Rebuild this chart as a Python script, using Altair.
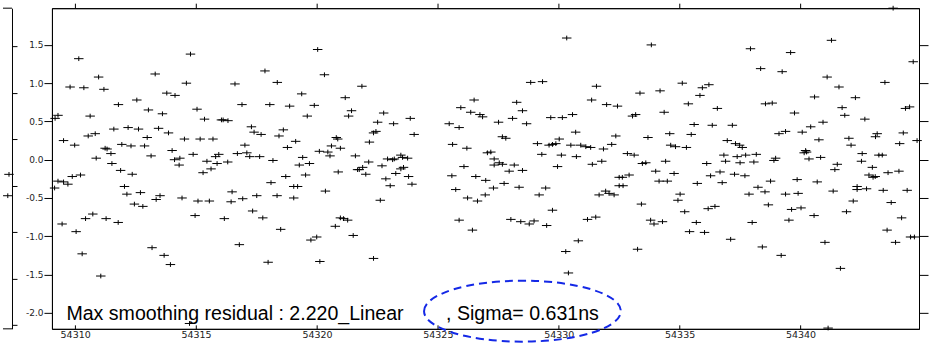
import altair as alt
import pandas as pd

# ---------------- data ----------------
mjd = [
    54309.17, 54309.29, 54309.15, 54309.29, 54309.52, 54309.70, 54309.46, 54309.52, 54309.79, 54309.98,
    54310.04, 54309.88, 54310.22, 54310.15, 54310.29, 54310.36, 54310.43, 54310.54, 54310.62, 54310.73,
    54310.83, 54310.87, 54310.97, 54311.06, 54311.19,
    54311.24, 54311.32, 54311.28, 54311.48, 54311.52, 54311.60, 54311.79, 54311.78, 54311.88, 54311.93,
    54312.04, 54312.14, 54312.19, 54312.31, 54312.36, 54312.45, 54312.55, 54312.62, 54312.70, 54312.80,
    54312.87, 54312.98, 54313.03, 54313.14, 54313.18, 54313.31, 54313.35, 54313.45, 54313.51, 54313.61,
    54313.68, 54313.79, 54313.86, 54313.94, 54314.01, 54314.11, 54314.13, 54314.30, 54314.33, 54314.42,
    54314.52, 54314.60, 54314.73, 54314.77, 54314.88, 54314.96, 54315.04, 54315.08, 54315.17,
    54315.29, 54315.35, 54315.45, 54315.55, 54315.62, 54315.70, 54315.81, 54315.87, 54315.94, 54316.05,
    54316.12, 54316.17, 54316.31, 54316.32, 54316.45, 54316.49, 54316.61, 54316.71, 54316.79, 54316.90,
    54316.93, 54317.02, 54317.10, 54317.22, 54317.29, 54317.34, 54317.40, 54317.51, 54317.63, 54317.69,
    54317.76, 54317.85, 54317.98, 54318.05, 54318.10, 54318.18, 54318.35, 54318.36, 54318.43, 54318.50,
    54318.61, 54318.71, 54318.78, 54318.87, 54319.04, 54319.04, 54319.20, 54319.12, 54319.27, 54319.37,
    54319.41, 54319.53, 54319.60, 54319.69, 54319.75, 54319.89, 54319.99, 54320.03, 54320.10, 54320.12,
    54320.31, 54320.35, 54320.45, 54320.54, 54320.60, 54320.76, 54320.80, 54320.86, 54320.88, 54320.97,
    54320.97,
    54321.10, 54321.17, 54321.27, 54321.31, 54321.43, 54321.50, 54321.59, 54321.68, 54321.75, 54321.86,
    54321.89, 54322.02, 54322.14, 54322.17, 54322.34, 54322.44, 54322.34, 54322.51, 54322.62, 54322.69,
    54322.76, 54322.85, 54322.92, 54323.03, 54323.13, 54323.17, 54323.20, 54323.26, 54323.47, 54323.47,
    54323.54, 54323.58, 54323.75, 54323.79, 54323.86, 54323.93, 54324.02,
    54325.47, 54325.58, 54325.61, 54325.74, 54325.88, 54325.88, 54325.95, 54326.08, 54326.20, 54326.23,
    54326.36, 54326.43, 54326.50, 54326.57, 54326.64, 54326.74, 54326.85, 54326.96, 54326.98, 54327.05,
    54327.19, 54327.30, 54327.33, 54327.33, 54327.51, 54327.54, 54327.67, 54327.67, 54327.74, 54327.81,
    54327.95, 54328.02, 54328.09, 54328.16, 54328.26, 54328.36, 54328.43, 54328.50, 54328.50, 54328.67,
    54328.78, 54328.84, 54328.98, 54329.12, 54329.19, 54329.30, 54329.33, 54329.46, 54329.50, 54329.60,
    54329.67, 54329.74, 54329.74, 54329.88, 54329.95, 54330.02, 54330.11, 54330.15, 54330.29, 54330.33,
    54330.40, 54330.50, 54330.57, 54330.70, 54330.73, 54330.81, 54330.91,
    54331.12, 54331.19, 54331.32, 54331.36, 54331.39, 54331.53, 54331.56, 54331.67, 54331.78, 54331.85,
    54331.94, 54331.98, 54332.08, 54332.19, 54332.29, 54332.36, 54332.43, 54332.50, 54332.50, 54332.63,
    54332.66, 54332.84, 54332.91, 54333.05, 54333.12, 54333.18, 54333.26, 54333.36, 54333.42, 54333.46,
    54333.60, 54333.69, 54333.80, 54333.83, 54333.94, 54334.01, 54334.15, 54334.19, 54334.29, 54334.36,
    54334.42, 54334.49, 54334.59, 54334.63, 54334.77, 54334.83, 54334.93, 54335.02, 54335.11, 54335.21,
    54335.28, 54335.36, 54335.41, 54335.48, 54335.60, 54335.69, 54335.73, 54335.84, 54335.94, 54336.03,
    54336.12, 54336.21, 54336.18, 54336.28, 54336.35, 54336.46, 54336.56, 54336.67, 54336.76, 54336.83,
    54336.90, 54336.97, 54337.11, 54337.18, 54337.27, 54337.31, 54337.38, 54337.48, 54337.50, 54337.59,
    54337.70, 54337.73, 54337.87, 54337.93, 54338.00, 54338.07, 54338.17, 54338.24, 54338.35, 54338.42,
    54338.53, 54338.55, 54338.67, 54338.76, 54338.83, 54338.90, 54338.97, 54339.11, 54339.20, 54339.24,
    54339.38, 54339.38, 54339.52, 54339.59, 54339.63, 54339.75, 54339.86, 54339.90, 54340.02, 54340.07,
    54340.15, 54340.21, 54340.25, 54340.35, 54340.42, 54340.56, 54340.58, 54340.69, 54340.76, 54340.83,
    54340.93, 54341.01, 54341.10, 54341.14, 54341.28, 54341.35, 54341.42, 54341.52, 54341.59, 54341.65,
    54341.72, 54341.83, 54341.90, 54342.00, 54342.09, 54342.18, 54342.27, 54342.34, 54342.34, 54342.52,
    54342.55, 54342.66, 54342.73, 54342.83, 54342.97, 54343.00, 54343.09, 54343.10, 54343.17, 54343.24,
    54343.38, 54343.42, 54343.49, 54343.58, 54343.62, 54343.75, 54343.83, 54343.93, 54344.07, 54344.10,
    54344.18, 54344.25, 54344.34, 54344.41, 54344.51, 54344.55, 54344.66, 54344.71, 54344.82,
]
residual = [
    0.54, 0.58, -0.37, -0.28, -0.29, -0.32, -0.84, 0.25, 0.95, 0.19,
    -0.94, -0.22, -0.20, 1.32, -1.23, 0.94, -0.77, 0.31, 0.57, -0.71,
    0.34, 0.02, 1.08, -1.52, 0.92,
    0.15, 0.14, -0.77, 0.08, -0.05, 0.40, 0.72, -0.82, -0.14, 0.20,
    -0.35, -0.45, 0.42, 0.18, -0.19, -0.58, 0.78, 0.40, -0.43, -0.61,
    0.18, 0.29, 0.65, 0.05, -1.15, 1.12, -0.52, 0.41, -0.47, 0.60,
    -1.25, 0.87, 0.35, -1.37, 0.12, 0.00, 0.84, -0.07, 0.02, -0.50,
    0.27, 1.00, -2.14, 1.38, 0.07, -0.73, 0.66, -0.54, 0.27,
    -0.17, 0.53, -0.02, -0.54, -0.12, 0.27, 0.04, -0.05, 0.07, 0.52,
    0.52, -0.77, -0.03, 0.51, -0.55, -0.42, 0.99, 0.08, -1.11, 0.72,
    -0.51, 0.19, 0.09, 0.04, 0.43, -0.67, 0.36, -0.47, 0.04, 0.33,
    -0.76, 1.16, -1.34, 0.72, -0.30, -0.01, -0.47, 1.01, 0.31, -0.91,
    0.39, -0.22, 0.16, 0.70, -0.35, -0.50, -0.35, 0.24, -0.07, 0.86,
    0.03, -0.20, 0.57, -0.05, -1.05, 0.71, -1.01, 1.44, 0.11, -1.33,
    1.11, -0.41, 0.10, 0.05, 0.18, -0.87, 0.29, 0.27, -0.16, 0.15,
    -0.76,
    -0.77, 0.81, -0.79, 0.57, 0.64, -0.99, 0.05, -0.13, -0.13, 0.96,
    -0.10, -0.19, -0.03, 0.23, 0.35, 0.37, -1.29, 0.49, -0.53, -0.08,
    0.61, -0.25, 0.01, -0.34, 0.00, 0.47, 0.01, -0.18, 0.06, -0.12,
    0.03, -0.10, 0.02, -0.22, 0.54, -0.32, 0.33,
    0.47, -0.21, 0.20, -0.39, 0.42, -0.79, 0.68, -0.09, 0.15, -0.50,
    0.62, -0.92, 0.78, -0.22, -0.54, 0.59, 0.56, -0.46, -0.27, 0.09,
    0.10, -0.37, 0.01, -0.07, 0.49, -0.04, 0.30, -0.06, -0.31, 0.28,
    -0.15, -0.78, 0.54, -0.07, 0.75, -0.36, -0.81, 0.64, -0.14, 0.47,
    -0.84, 1.01, -0.80, 0.21, -0.46, 0.07, 1.02, -0.37, -0.86, 0.19,
    0.55, 0.20, -0.66, 0.21, -0.09, 0.27, 0.06, 0.55, -1.20, 1.59,
    -1.48, 0.19, 0.59, 0.36, 0.04, -1.06, 0.19,
    0.17, -0.78, 0.16, 0.78, -0.06, -0.75, 0.96, -0.46, -0.02, 0.14,
    -0.41, 0.72, -0.44, 0.20, -0.46, 0.31, 0.70, -0.23, -0.34, -0.23,
    -0.34, 0.08, -0.20, 0.57, 0.06, 0.59, -1.17, 0.87, -0.58, -0.05,
    -0.04, 0.29, -0.79, 1.50, -0.84, -0.15, -0.28, 0.90, -0.81, 0.62,
    -0.02, -0.28, 0.34, 0.19, -0.18, 0.17, -0.53, -0.45, 1.00, -0.68,
    0.16, 0.73, -0.94, 0.33, 0.46, -0.82, -0.31, 0.84, 0.94, -0.95,
    -0.05, 0.98, -0.64, -0.21, 0.45, -0.61, 0.67, -0.16, -0.30, 0.06,
    -0.02, 0.25, -1.04, 0.45, -0.19, 0.21, 0.04, 0.19, -0.04, 0.16,
    -0.21, 0.06, -0.45, 1.45, -0.82, -0.03, 0.07, -0.36, 1.19, -1.14,
    -0.42, 0.73, -0.59, -0.28, 0.74, -0.01, 0.02, 0.34, -1.25, 1.15,
    0.37, -0.45, -0.79, 1.40, -0.65, 0.61, -0.26, -0.44, -0.63, 0.36,
    0.09, 0.12, 0.10, 0.01, 0.43, -0.73, 0.82, -0.29, 0.26, 0.03,
    0.49, -1.08, 1.08, -2.20, 1.56, -0.41, -0.13, -0.06, 0.95, -1.42,
    0.68, 0.58, -0.68, 0.28, 0.19, -0.54, 0.81, -0.35, -0.39, -0.02,
    0.08, 0.53, -0.38, -0.20, -0.10, -0.23, -0.22, 0.30, 0.34, 0.06,
    0.06, -0.40, 1.01, -0.92, -0.17, -0.56, 1.98, -1.08, -0.15, 0.21,
    -0.76, 0.35, 0.67, -0.40, 0.69, -1.01, 1.28, -1.01, 0.25,
]

# remnant of the neighbouring panel at the far left
left_mjd = [54308.85, 54308.79]
left_residual = [0.12, -0.11]

x_ticks = [54310, 54315, 54320, 54325, 54330, 54335, 54340]
y_ticks = [-2.0, -1.5, -1.0, -0.5, 0.0, 0.5, 1.0, 1.5]
left_ticks = [-1.5, -1.0, -0.5, 0.0, 0.5, 1.0, 1.5]

note_text = "Max smoothing residual : 2.220_Linear"
sigma_text = ", Sigma= 0.631ns"

# ---------------- chart ----------------
df = pd.DataFrame({"mjd": mjd, "residual": residual})
left_df = pd.DataFrame({"mjd": left_mjd, "residual": left_residual})
one = pd.DataFrame({"k": [0]})

PLUS = "M-1,0L1,0M0,-0.5L0,0.5"
ELLIPSE = ("M-1,0C-1,-0.171,-0.552,-0.31,0,-0.31C0.552,-0.31,1,-0.171,1,0"
           "C1,0.171,0.552,0.31,0,0.31C-0.552,0.31,-1,0.171,-1,0Z")

W, H = 868, 321
xs = alt.Scale(domain=[54309.04, 54344.9], nice=False, zero=False)
ys = alt.Scale(domain=[-2.21, 1.98], nice=False, zero=False)
ylab = "(datum.value < 0 ? '-' : '') + format(abs(datum.value), '.1f')"

pts = alt.Chart(df).mark_point(
    shape=PLUS, size=90, filled=False, stroke="black", strokeWidth=1, opacity=1
).encode(
    x=alt.X("mjd:Q", scale=xs, axis=alt.Axis(
        orient="bottom", values=x_ticks, format="d", title=None, grid=False,
        tickSize={"expr": "-4"}, labelPadding=5, labelFontSize=9.5)),
    y=alt.Y("residual:Q", scale=ys, axis=alt.Axis(
        orient="left", values=y_ticks, labelExpr=ylab, title=None, grid=False,
        tickSize=8, labelPadding=1, labelFontSize=9)),
)

ghost = alt.Chart(df).mark_point(opacity=0).encode(
    x=alt.X("mjd:Q", scale=xs, axis=alt.Axis(
        orient="top", values=x_ticks, labels=False, title=None, grid=False, tickSize=5)),
    y=alt.Y("residual:Q", scale=ys, axis=alt.Axis(
        orient="right", values=y_ticks, labels=False, title=None, grid=False, tickSize=9)),
)

t1 = alt.Chart(one).mark_text(
    align="left", baseline="alphabetic", font="Liberation Sans", fontSize=19.6, color="black"
).encode(x=alt.value(14.5), y=alt.value(312.3), text=alt.value(note_text))

t2 = alt.Chart(one).mark_text(
    align="left", baseline="alphabetic", font="Liberation Sans", fontSize=19.6, color="black"
).encode(x=alt.value(394.5), y=alt.value(312.3), text=alt.value(sigma_text))

ell = alt.Chart(one).mark_point(
    shape=ELLIPSE, size=197 * 197, filled=False, stroke="#1428e6", strokeWidth=2,
    strokeDash=[8, 5], opacity=1
).encode(x=alt.value(471), y=alt.value(303.3))

main = alt.layer(pts, ghost, t1, t2, ell).resolve_axis(
    x="independent", y="independent"
).properties(width=W, height=H)

lxs = alt.Scale(domain=[54308.55, 54309.0], nice=False, zero=False)
lys = alt.Scale(domain=[-1.543, 1.909], nice=False, zero=False)

lpts = alt.Chart(left_df).mark_point(
    shape=PLUS, size=90, filled=False, stroke="black", strokeWidth=1, opacity=1
).encode(
    x=alt.X("mjd:Q", scale=lxs, axis=None),
    y=alt.Y("residual:Q", scale=lys, axis=alt.Axis(
        orient="right", values=left_ticks, labels=False, title=None, grid=False, tickSize=5)),
)
ltop = alt.Chart(one).mark_rule(color="black", strokeWidth=1).encode(
    x=alt.value(0), x2=alt.value(9), y=alt.value(0))
lbot = alt.Chart(one).mark_rule(color="black", strokeWidth=1).encode(
    x=alt.value(0), x2=alt.value(9), y=alt.value(H))

left = alt.layer(lpts, ltop, lbot).properties(
    width=9, height=H, view=alt.ViewBackground(stroke="transparent"))

chart = alt.hconcat(left, main, spacing=40, bounds="flush").properties(
    padding={"left": 0, "top": 2, "right": 0, "bottom": 0}
).configure_view(
    stroke="black", strokeWidth=1
).configure_axis(
    domainColor="black", tickColor="black", labelColor="#222",
    labelFont="DejaVu Sans", domainWidth=1, tickWidth=1
)

chart.save("out.html", embed_options={"renderer": "svg", "actions": False})
